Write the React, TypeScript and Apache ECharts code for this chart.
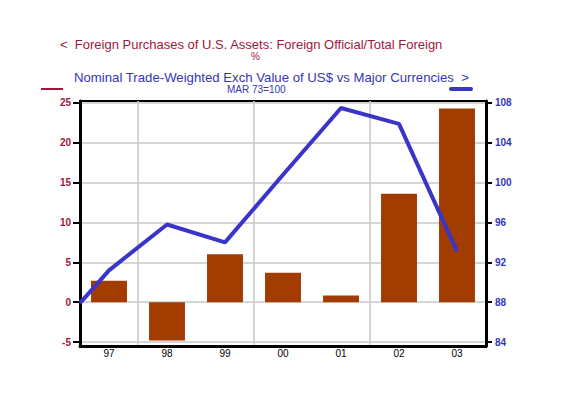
import React, { useEffect, useRef } from "react";
import * as echarts from "echarts";

const years = ["97", "98", "99", "00", "01", "02", "03"];
const officialShare = [2.7, -4.8, 6.0, 3.7, 0.85, 13.6, 24.3];
// x positions on a continuous index axis (−0.5 = start of 1997)
const lineX = [-0.5, 0, 1, 2, 3, 4, 5, 6];
const dollarIndex = [87.9, 91.2, 95.8, 94.0, 100.8, 107.5, 105.9, 93.1];
const leftTicks = [-5, 0, 5, 10, 15, 20, 25];
const rightTicks = [84, 88, 92, 96, 100, 104, 108];

const RED = "#a0173c";
const BLUE = "#3636b4";
const BAR = "#a33c00";
const LINE = "#3a35c8";

export default function App() {
  const ref = useRef<HTMLDivElement>(null);
  useEffect(() => {
    document.body.style.margin = "0";
    const chart = echarts.init(ref.current!, null, { renderer: "svg" });
    const font = "Liberation Sans, Arial, sans-serif";
    chart.setOption({
      animation: false,
      backgroundColor: "#ffffff",
      textStyle: { fontFamily: font },
      grid: {
        left: 80,
        right: 90,
        top: 101,
        height: 245,
        show: true,
        borderColor: "#000",
        borderWidth: 2,
        backgroundColor: "transparent",
      },
      graphic: [
        {
          type: "text",
          left: 60,
          top: 38,
          style: {
            text: "<  Foreign Purchases of U.S. Assets: Foreign Official/Total Foreign",
            fill: RED,
            font: `13px ${font}`,
            lineHeight: 13,
          },
        },
        {
          type: "text",
          left: 251,
          top: 51,
          style: { text: "%", fill: RED, font: `10px ${font}`, lineHeight: 10 },
        },
        {
          type: "text",
          left: 74,
          top: 71,
          style: {
            text: "Nominal Trade-Weighted Exch Value of US$ vs Major Currencies  >",
            fill: BLUE,
            font: `13.2px ${font}`,
            lineHeight: 13,
          },
        },
        {
          type: "text",
          left: 227,
          top: 84,
          style: { text: "MAR 73=100", fill: BLUE, font: `10px ${font}`, lineHeight: 10 },
        },
        {
          type: "line",
          shape: { x1: 41, y1: 89, x2: 63, y2: 89 },
          style: { stroke: RED, lineWidth: 2 },
        },
        {
          type: "line",
          shape: { x1: 451, y1: 89, x2: 471, y2: 89 },
          style: { stroke: LINE, lineWidth: 4, lineCap: "round" },
        },
      ],
      xAxis: [
        {
          type: "category",
          data: years,
          boundaryGap: true,
          axisLine: { onZero: false, lineStyle: { color: "#000", width: 3 } },
          axisTick: { length: 9, lineStyle: { color: "#000", width: 3 } },
          axisLabel: { color: "#000", fontSize: 10, margin: 2 },
          splitLine: {
            show: true,
            interval: (i: number) => i % 2 === 1,
            lineStyle: { color: "#c8c8c8", width: 1.5 },
          },
        },
        {
          type: "value",
          min: -0.5,
          max: 6.5,
          show: false,
        },
      ],
      yAxis: [
        {
          type: "value",
          min: -5.5,
          max: 25.25,
          position: "left",
          axisLine: { show: true, onZero: false, lineStyle: { color: "#000", width: 3 } },
          axisTick: {
            show: true,
            length: 7,
            customValues: leftTicks,
            lineStyle: { color: "#000", width: 2 },
          },
          axisLabel: {
            customValues: leftTicks,
            color: RED,
            fontSize: 10,
            fontWeight: "bold",
            margin: 9,
          },
          splitLine: { show: true, lineStyle: { color: "#c8c8c8", width: 1.5 } },
        },
        {
          type: "value",
          min: 83.6,
          max: 108.2,
          position: "right",
          axisLine: { show: true, onZero: false, lineStyle: { color: "#000", width: 3 } },
          axisTick: {
            show: true,
            length: 6,
            customValues: rightTicks,
            lineStyle: { color: "#000", width: 2 },
          },
          axisLabel: {
            customValues: rightTicks,
            color: BLUE,
            fontSize: 10,
            fontWeight: "bold",
            margin: 9,
          },
          splitLine: { show: false },
        },
      ],
      series: [
        {
          type: "bar",
          xAxisIndex: 0,
          yAxisIndex: 0,
          data: officialShare,
          barWidth: "62%",
          itemStyle: { color: BAR },
        },
        {
          type: "line",
          xAxisIndex: 1,
          yAxisIndex: 1,
          data: lineX.map((x, i) => [x, dollarIndex[i]]),
          symbol: "none",
          lineStyle: { color: LINE, width: 4 },
          clip: true,
        },
      ],
    });
    return () => chart.dispose();
  }, []);
  return <div ref={ref} style={{ width: 576, height: 399 }} />;
}
